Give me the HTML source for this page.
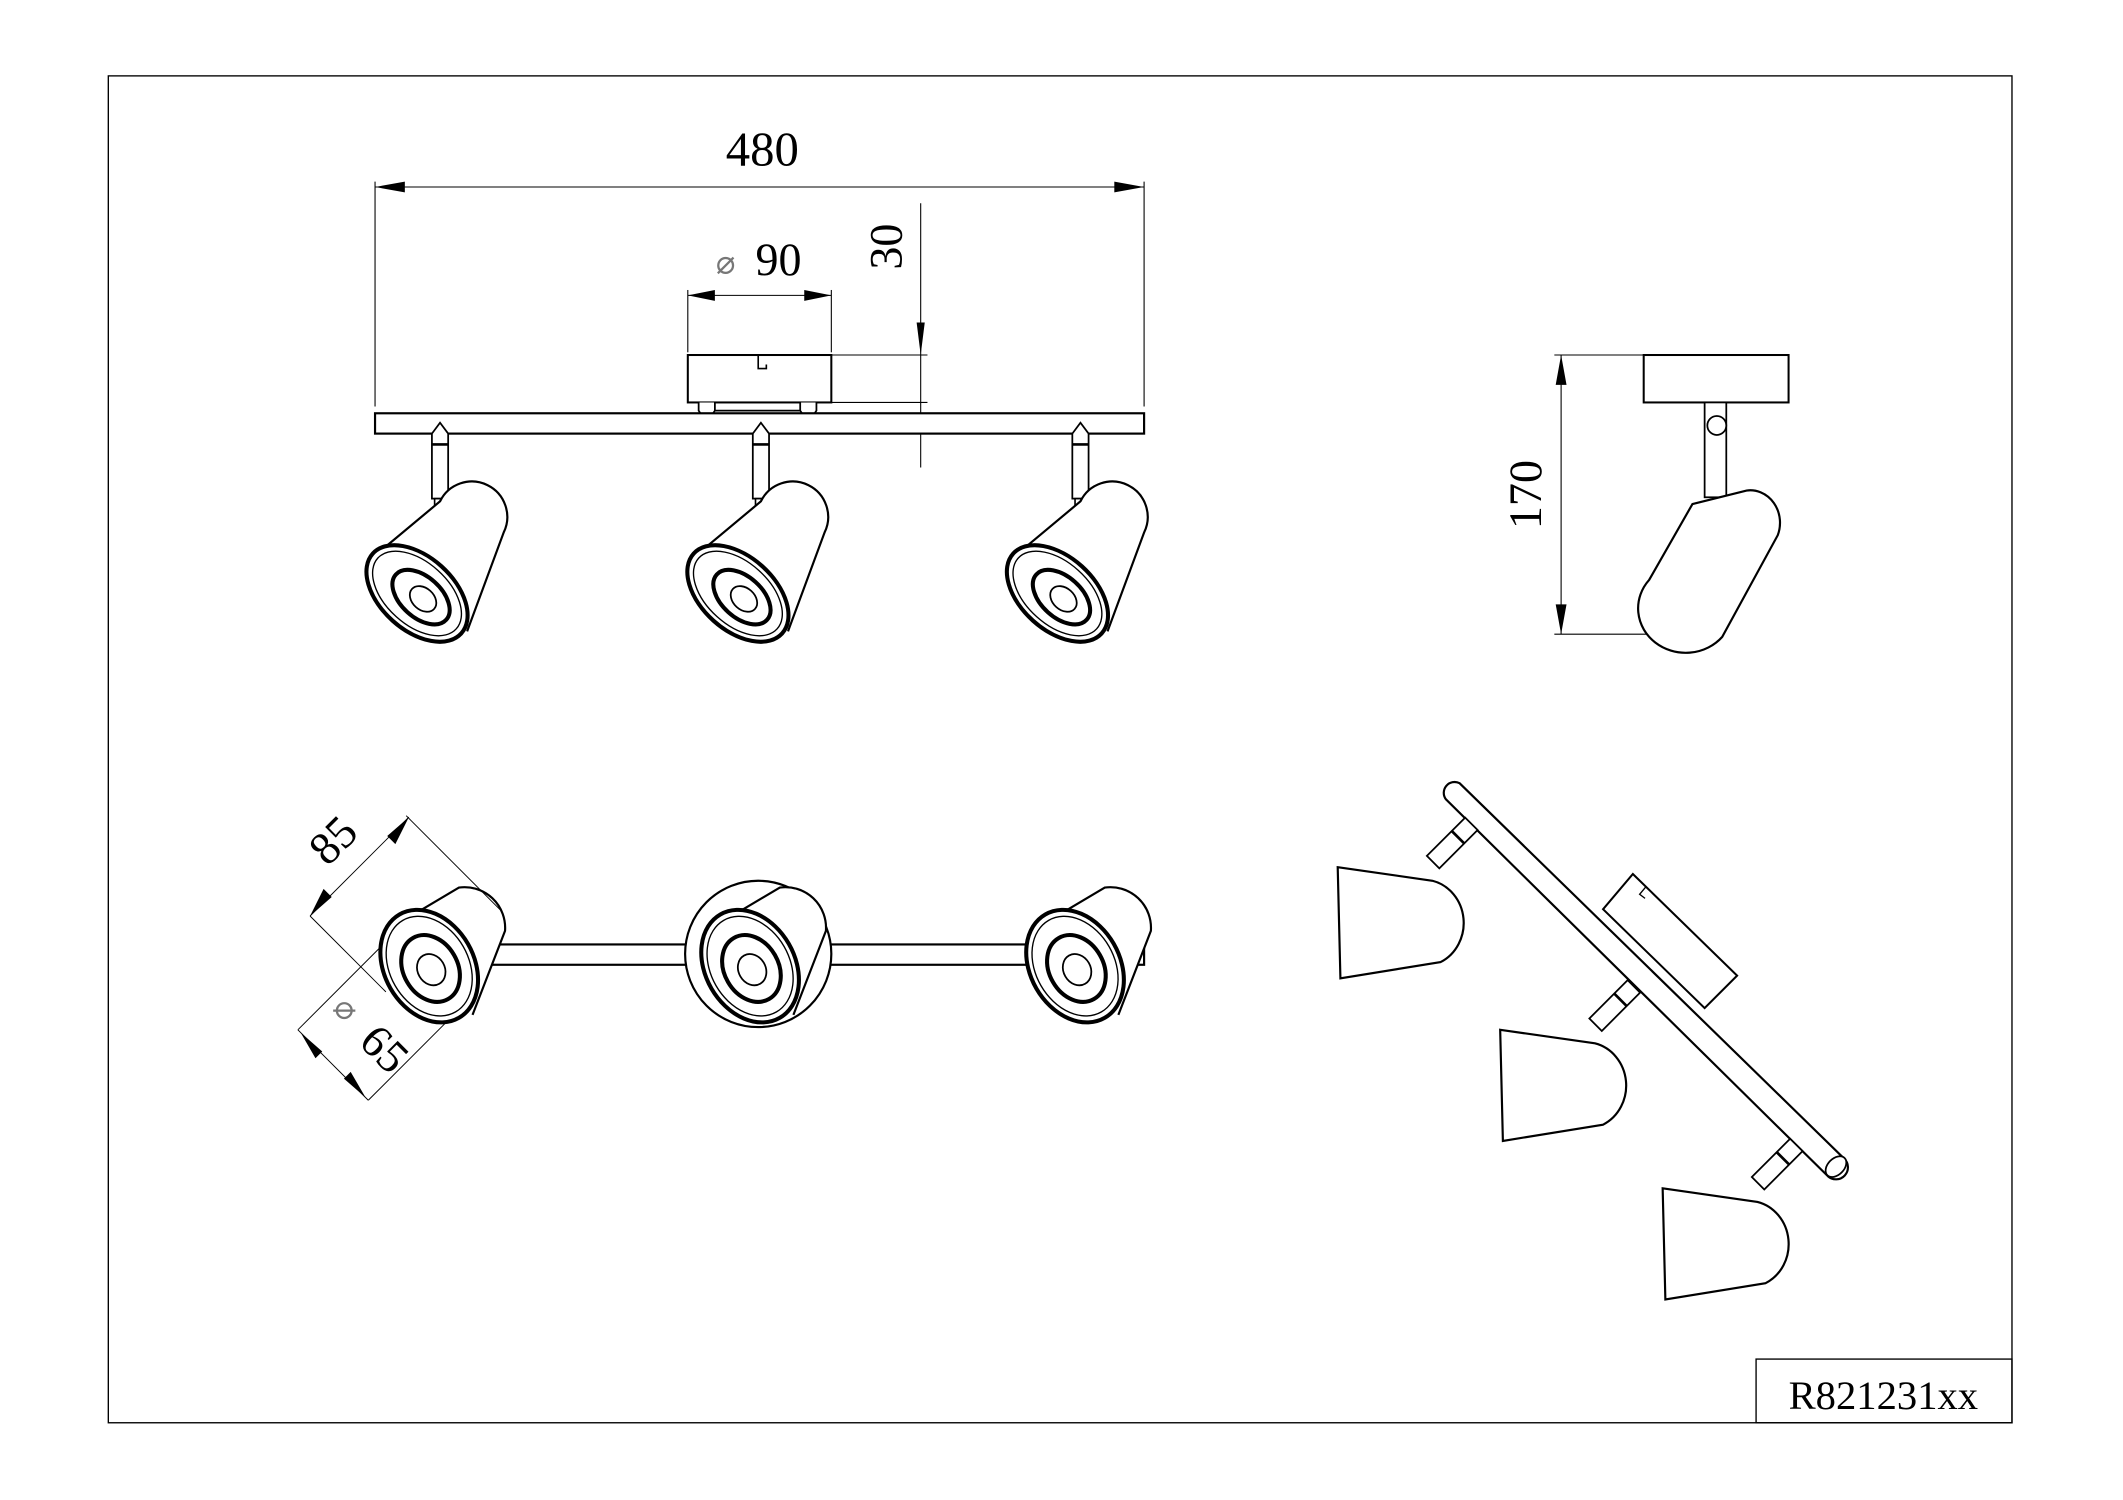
<!DOCTYPE html>
<html><head><meta charset="utf-8"><style>html,body{margin:0;padding:0;background:#fff}svg{display:block}</style></head>
<body>
<svg width="2123" height="1500" viewBox="0 0 1568 1107" preserveAspectRatio="none" xmlns="http://www.w3.org/2000/svg" font-family="Liberation Serif, serif">
<defs>
<g id="lt">
 <path d="M-48,-28 L0,-68 A26,26 0 0 1 47,-45 L20,28" fill="#fff" stroke="#000" stroke-width="1.6"/>
 <g transform="translate(-17,0) rotate(42)">
  <ellipse rx="44" ry="27" fill="#fff" stroke="#000" stroke-width="3"/>
  <ellipse rx="39" ry="23" fill="none" stroke="#000" stroke-width="1"/>
  <ellipse cx="4" rx="25" ry="15" fill="none" stroke="#000" stroke-width="3"/>
  <ellipse cx="6" rx="11" ry="8" fill="none" stroke="#000" stroke-width="1.3"/>
 </g>
</g>
<g id="lb">
 <path d="M-38,-18 L16,-50 A30,30 0 0 1 50,-18 L26,44" fill="#fff" stroke="#000" stroke-width="1.6"/>
 <g transform="translate(-6,8) rotate(60)">
  <ellipse rx="44" ry="33" fill="#fff" stroke="#000" stroke-width="3"/>
  <ellipse rx="39" ry="29" fill="none" stroke="#000" stroke-width="1"/>
  <ellipse cx="2" rx="26" ry="20" fill="none" stroke="#000" stroke-width="3"/>
  <ellipse cx="3" rx="12" ry="10" fill="none" stroke="#000" stroke-width="1.3"/>
 </g>
</g>
<g id="stem">
 <path d="M-6,-8 L0,-16 L6,-8 L6,40 L-6,40 Z" fill="#fff" stroke="#000" stroke-width="1.3"/>
 <line x1="-6" y1="0" x2="6" y2="0" stroke="#000" stroke-width="2"/>
 <rect x="-4" y="40" width="8" height="6" fill="#fff" stroke="#000" stroke-width="1.2"/>
</g>
<g id="shade">
 <g transform="translate(80,-14) rotate(45)"><rect x="-6" y="-26" width="13" height="40" fill="#fff" stroke="#000" stroke-width="1.3"/><line x1="-6" y1="-12" x2="7" y2="-12" stroke="#000" stroke-width="2"/></g>
 <path d="M0,0 L70,10 A30,32 0 0 1 76,70 L2,82 Z" fill="#fff" stroke="#000" stroke-width="1.6"/>
</g>
</defs>
<rect x="80" y="56" width="1406" height="994" fill="none" stroke="#000" stroke-width="1"/>
<rect x="1297" y="1003" width="189" height="47" fill="none" stroke="#000" stroke-width="1"/>
<text x="1391" y="1040" font-size="30" text-anchor="middle">R821231xx</text>

<!-- top view -->
<g stroke="#000" stroke-width="0.8" fill="none">
 <line x1="277" y1="134" x2="277" y2="300"/><line x1="845" y1="134" x2="845" y2="300"/>
 <line x1="277" y1="138" x2="845" y2="138"/>
 <line x1="508" y1="214" x2="508" y2="260"/><line x1="614" y1="214" x2="614" y2="260"/>
 <line x1="508" y1="218" x2="614" y2="218"/>
 <line x1="680" y1="150" x2="680" y2="345"/>
 <line x1="614" y1="262" x2="685" y2="262"/><line x1="614" y1="297" x2="685" y2="297"/>
</g>
<g fill="#000">
 <path d="M277,138 l22,-4 v8z"/><path d="M845,138 l-22,-4 v8z"/>
 <path d="M508,218 l20,-4 v8z"/><path d="M614,218 l-20,-4 v8z"/>
 <path d="M680,262 l-3,-24 h6z"/><path d="M680,305 l-3,15 h6z"/>
</g>
<text x="563" y="122" font-size="36" text-anchor="middle">480</text>
<text x="536" y="202" font-size="24" fill="#777" text-anchor="middle">⌀</text>
<text x="575" y="203" font-size="34" text-anchor="middle">90</text>
<text transform="translate(666,182) rotate(-90)" font-size="34" text-anchor="middle">30</text>
<rect x="508" y="262" width="106" height="35" fill="#fff" stroke="#000" stroke-width="1.5"/>
<path d="M560,262 v10 h6 v-3" fill="none" stroke="#000" stroke-width="1.2"/>
<path d="M516,297 v6 l6,9 l6,-9 v-6 M591,297 v6 l6,9 l6,-9 v-6 M528,303 h63" fill="#fff" stroke="#000" stroke-width="1.3"/>
<rect x="277" y="305" width="568" height="15" fill="#fff" stroke="#000" stroke-width="1.6"/>
<use href="#stem" transform="translate(325,328)"/>
<use href="#stem" transform="translate(562,328)"/>
<use href="#stem" transform="translate(798,328)"/>
<use href="#lt" transform="translate(325,438)"/>
<use href="#lt" transform="translate(562,438)"/>
<use href="#lt" transform="translate(798,438)"/>

<!-- side view -->
<g stroke="#000" stroke-width="0.8" fill="none">
 <line x1="1153" y1="262" x2="1153" y2="468"/>
 <line x1="1148" y1="262" x2="1214" y2="262"/><line x1="1148" y1="468" x2="1272" y2="468"/>
</g>
<path d="M1153,262 l-4,22 h8z M1153,468 l-4,-22 h8z" fill="#000"/>
<text transform="translate(1138,365) rotate(-90)" font-size="34" text-anchor="middle">170</text>
<rect x="1214" y="262" width="107" height="35" fill="#fff" stroke="#000" stroke-width="1.5"/>
<rect x="1259" y="297" width="16" height="70" fill="#fff" stroke="#000" stroke-width="1.3"/>
<circle cx="1268" cy="314" r="7" fill="#fff" stroke="#000" stroke-width="1.3"/>
<path d="M1250,372 L1290,362 A22,24 0 0 1 1313,395 L1272,470 A30,28 0 0 1 1218,428 Z" fill="#fff" stroke="#000" stroke-width="1.6"/>

<!-- bottom view -->
<rect x="345" y="697" width="500" height="15" fill="#fff" stroke="#000" stroke-width="1.6"/>
<circle cx="560" cy="704" r="54" fill="#fff" stroke="#000" stroke-width="1.6"/>
<use href="#lb" transform="translate(323,705)"/>
<use href="#lb" transform="translate(560,705)"/>
<use href="#lb" transform="translate(800,705)"/>
<g stroke="#000" stroke-width="0.7" fill="none">
 <line x1="229" y1="676" x2="302" y2="603"/><line x1="300" y1="602" x2="370" y2="672"/><line x1="229" y1="676" x2="285" y2="732"/>
 <line x1="220" y1="760" x2="272" y2="812"/><line x1="220" y1="760" x2="280" y2="700"/><line x1="272" y1="812" x2="330" y2="754"/>
</g>
<path d="M302,603 l-10,20 l-6,-6z M229,676 l10,-20 l6,6z M222,762 l16,14 l-5,5z M270,810 l-16,-14 l5,-5z" fill="#000"/>
<text transform="translate(254,628) rotate(-45)" font-size="34" text-anchor="middle">85</text>
<text transform="translate(250,750) rotate(45)" font-size="24" fill="#777" text-anchor="middle">⌀</text>
<text transform="translate(276,782) rotate(45)" font-size="34" text-anchor="middle">65</text>

<!-- perspective -->
<path d="M1068,590 A8,8 0 0 1 1078,578 L1362,855 A8,8 0 0 1 1350,868 Z" fill="#fff" stroke="#000" stroke-width="1.6"/>
<ellipse cx="1356" cy="861" rx="6" ry="9" transform="rotate(45 1356 861)" fill="#fff" stroke="#000" stroke-width="1.3"/>
<path d="M1206,645 L1283,720 L1259,744 L1184,671 Z" fill="#fff" stroke="#000" stroke-width="1.5"/>
<path d="M1216,654 l-5,6 l4,3" fill="none" stroke="#000" stroke-width="1"/>
<use href="#shade" transform="translate(988,640)"/>
<use href="#shade" transform="translate(1108,760)"/>
<use href="#shade" transform="translate(1228,877)"/>
</svg>
</body></html>
